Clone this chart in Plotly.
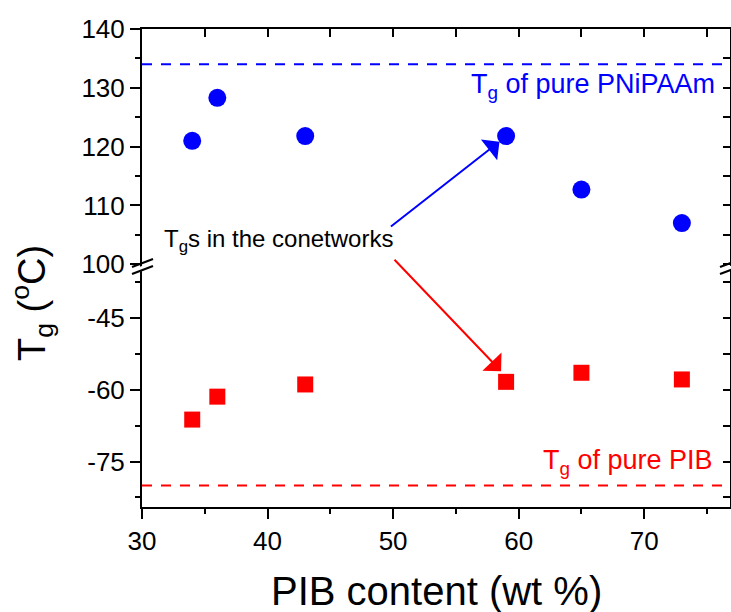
import plotly.graph_objects as go

# ---- data ----
pib_content = [34, 36, 43, 59, 65, 73]
tg_pnipaam = [121.0, 128.3, 121.8, 121.8, 112.7, 107.0]
tg_pib = [-66.2, -61.4, -58.85, -58.3, -56.4, -57.8]
tg_pure_pnipaam = 134.0
tg_pure_pib = -80.0

upper_ticks = [100, 110, 120, 130, 140]
upper_labels = ["100", "110", "120", "130", "140"]
lower_ticks = [-75, -60, -45]
lower_labels = ["-75", "-60", "-45"]
x_ticks = [30, 40, 50, 60, 70]
x_labels = ["30", "40", "50", "60", "70"]

FONT = "Arial, Liberation Sans, sans-serif"
BLUE = "#0000FF"
RED = "#FF0000"

W, H = 731, 612
ML, MR, MT, MB = 142, 1, 29, 105
PW, PH = W - ML - MR, H - MT - MB
BOTTOM_PX = H - MB  # page y of bottom axis
BREAK = (BOTTOM_PX - 266) / PH  # paper fraction where the axis is broken


def px2paper(px, py):
    """page pixel -> paper coords"""
    return (px - ML) / PW, (BOTTOM_PX - py) / PH


fig = go.Figure()
fig.add_trace(go.Scatter(x=pib_content, y=tg_pnipaam, mode="markers",
                         marker=dict(symbol="circle", size=18, color=BLUE),
                         xaxis="x", yaxis="y", showlegend=False))
fig.add_trace(go.Scatter(x=pib_content, y=tg_pib, mode="markers",
                         marker=dict(symbol="square", size=16, color=RED),
                         xaxis="x", yaxis="y2", showlegend=False))
# empty traces so mirrored axes exist
fig.add_trace(go.Scatter(x=[], y=[], xaxis="x2", yaxis="y3", showlegend=False))
fig.add_trace(go.Scatter(x=[], y=[], xaxis="x", yaxis="y4", showlegend=False))

xr = [30, 30 + PW / 12.555]
yr_up = [140 - (PH * (1 - BREAK)) / 5.8825, 140]
yr_lo = [-84.5, -84.5 + (PH * BREAK) / 4.777]

axcommon = dict(showgrid=False, zeroline=False, showline=True, linecolor="black",
                linewidth=2, tickcolor="black", tickwidth=2,
                tickfont=dict(family=FONT, size=26, color="black"))

fig.update_layout(
    width=W, height=H, margin=dict(l=ML, r=MR, t=MT, b=MB),
    plot_bgcolor="white", paper_bgcolor="white", showlegend=False,
    xaxis=dict(range=xr, domain=[0, 1], anchor="y2", tickmode="array", tickvals=x_ticks,
               ticktext=x_labels, ticks="outside", ticklen=10,
               minor=dict(dtick=5, tick0=30, ticks="outside", ticklen=5, tickwidth=2, tickcolor="black"),
               **axcommon),
    xaxis2=dict(range=xr, overlaying="x", side="top", anchor="y", showticklabels=False,
                tickmode="linear", tick0=30, dtick=5, ticks="inside", ticklen=8,
                **axcommon),
    yaxis=dict(range=yr_up, domain=[BREAK, 1], anchor="x", tickmode="array", tickvals=upper_ticks,
               ticktext=upper_labels, ticks="outside", ticklen=10,
               minor=dict(dtick=5, tick0=100, ticks="outside", ticklen=5, tickwidth=2, tickcolor="black"),
               **axcommon),
    yaxis2=dict(range=yr_lo, domain=[0, BREAK], anchor="x", tickmode="array", tickvals=lower_ticks,
                ticktext=lower_labels, ticks="outside", ticklen=10,
                minor=dict(dtick=7.5, tick0=-82.5, ticks="outside", ticklen=5, tickwidth=2, tickcolor="black"),
                **axcommon),
    yaxis3=dict(range=yr_up, domain=[BREAK, 1], overlaying="y", side="right", anchor="x2",
                showticklabels=False, tickmode="linear", tick0=100, dtick=5, ticks="inside", ticklen=7,
                **axcommon),
    yaxis4=dict(range=yr_lo, domain=[0, BREAK], overlaying="y2", side="right", anchor="x",
                showticklabels=False, tickmode="linear", tick0=-82.5, dtick=7.5, ticks="inside", ticklen=7,
                **axcommon),
)

# reference lines for pure components
fig.add_shape(type="line", xref="x domain", yref="y", x0=0, x1=1, y0=tg_pure_pnipaam, y1=tg_pure_pnipaam,
              line=dict(color=BLUE, width=2, dash="10px,9px"))
fig.add_shape(type="line", xref="x domain", yref="y2", x0=0, x1=1, y0=tg_pure_pib, y1=tg_pure_pib,
              line=dict(color=RED, width=2, dash="10px,9px"))

# axis-break marks (left and right axis)
for cx in (ML, W - MR):
    pts = [px2paper(cx - 3, 267), px2paper(cx + 3, 265), px2paper(cx + 3, 270), px2paper(cx - 3, 272)]
    path = "M " + " L ".join(f"{x},{y}" for x, y in pts) + " Z"
    fig.add_shape(type="path", xref="paper", yref="paper", path=path,
                  fillcolor="white", line=dict(width=0), layer="above")
    for dy in (-3, 4):
        x0, y0 = px2paper(cx - 10, 266 + dy + 4)
        x1, y1 = px2paper(cx + 11, 266 + dy - 4)
        fig.add_shape(type="line", xref="paper", yref="paper", x0=x0, y0=y0, x1=x1, y1=y1,
                      line=dict(color="black", width=2), layer="above")

annots = []
# arrows
annots.append(dict(x=58.47, y=120.84, xref="x", yref="y", ax=-110, ay=86, showarrow=True,
                   arrowhead=1, arrowsize=2.2, arrowwidth=2, arrowcolor=BLUE, text=""))
annots.append(dict(x=58.6, y=-56.07, xref="x", yref="y2", ax=-108, ay=-113, showarrow=True,
                   arrowhead=1, arrowsize=2.2, arrowwidth=2, arrowcolor=RED, text=""))
# labels
annots.append(dict(x=75.8, y=130.3, xref="x", yref="y", xanchor="right", yanchor="middle",
                   text="T<sub>g</sub> of pure PNiPAAm", showarrow=False,
                   font=dict(family=FONT, size=27, color=BLUE)))
annots.append(dict(x=75.6, y=-75.1, xref="x", yref="y2", xanchor="right", yanchor="middle",
                   text="T<sub>g</sub> of pure PIB", showarrow=False,
                   font=dict(family=FONT, size=27, color=RED)))
annots.append(dict(x=31.6, y=104.1, xref="x", yref="y", xanchor="left", yanchor="middle",
                   text="T<sub>g</sub>s in the conetworks", showarrow=False,
                   font=dict(family=FONT, size=24, color="black")))
# axis titles
tx, ty = px2paper(437, 591)
annots.append(dict(x=tx, y=ty, xref="paper", yref="paper",
                   xanchor="center", yanchor="middle", text="PIB content (wt %)", showarrow=False,
                   font=dict(family=FONT, size=40, color="black")))
tx, ty = px2paper(32, 303)
annots.append(dict(x=tx, y=ty, xref="paper", yref="paper",
                   xanchor="center", yanchor="middle", textangle=-90,
                   text="T<sub>g</sub> (<sup>o</sup>C)", showarrow=False,
                   font=dict(family=FONT, size=38, color="black")))
fig.update_layout(annotations=annots)

fig.write_html("out.html", config={"displayModeBar": False},
               post_script="document.body.style.margin='0';document.body.style.overflow='hidden';")
